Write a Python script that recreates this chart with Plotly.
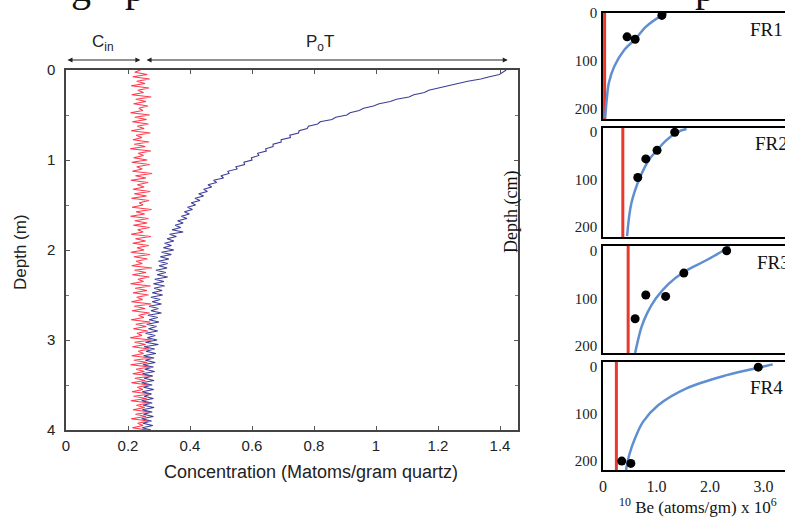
import plotly.graph_objects as go

W, H = 785, 519

# ---------------- main (left) panel data ----------------
depth_m = [
    0.000, 0.025, 0.050, 0.075, 0.100, 0.125, 0.150, 0.175,
    0.200, 0.225, 0.250, 0.275, 0.300, 0.325, 0.350, 0.375,
    0.400, 0.425, 0.450, 0.475, 0.500, 0.525, 0.550, 0.575,
    0.600, 0.625, 0.650, 0.675, 0.700, 0.725, 0.750, 0.775,
    0.800, 0.825, 0.850, 0.875, 0.900, 0.925, 0.950, 0.975,
    1.000, 1.025, 1.050, 1.075, 1.100, 1.125, 1.150, 1.175,
    1.200, 1.225, 1.250, 1.275, 1.300, 1.325, 1.350, 1.375,
    1.400, 1.425, 1.450, 1.475, 1.500, 1.525, 1.550, 1.575,
    1.600, 1.625, 1.650, 1.675, 1.700, 1.725, 1.750, 1.775,
    1.800, 1.825, 1.850, 1.875, 1.900, 1.925, 1.950, 1.975,
    2.000, 2.025, 2.050, 2.075, 2.100, 2.125, 2.150, 2.175,
    2.200, 2.225, 2.250, 2.275, 2.300, 2.325, 2.350, 2.375,
    2.400, 2.425, 2.450, 2.475, 2.500, 2.525, 2.550, 2.575,
    2.600, 2.625, 2.650, 2.675, 2.700, 2.725, 2.750, 2.775,
    2.800, 2.825, 2.850, 2.875, 2.900, 2.925, 2.950, 2.975,
    3.000, 3.025, 3.050, 3.075, 3.100, 3.125, 3.150, 3.175,
    3.200, 3.225, 3.250, 3.275, 3.300, 3.325, 3.350, 3.375,
    3.400, 3.425, 3.450, 3.475, 3.500, 3.525, 3.550, 3.575,
    3.600, 3.625, 3.650, 3.675, 3.700, 3.725, 3.750, 3.775,
    3.800, 3.825, 3.850, 3.875, 3.900, 3.925, 3.950, 3.975,
    4.000,
]

total_conc = [
    1.420, 1.408, 1.398, 1.366, 1.338, 1.296, 1.266, 1.226,
    1.200, 1.170, 1.156, 1.122, 1.106, 1.066, 1.046, 1.010,
    0.992, 0.960, 0.946, 0.916, 0.906, 0.870, 0.858, 0.820,
    0.812, 0.782, 0.778, 0.752, 0.750, 0.722, 0.724, 0.694,
    0.694, 0.668, 0.668, 0.644, 0.646, 0.618, 0.622, 0.598,
    0.600, 0.574, 0.576, 0.548, 0.552, 0.522, 0.526, 0.500,
    0.508, 0.476, 0.486, 0.458, 0.470, 0.444, 0.456, 0.428,
    0.444, 0.416, 0.432, 0.404, 0.418, 0.392, 0.408, 0.382,
    0.398, 0.372, 0.390, 0.360, 0.378, 0.352, 0.370, 0.342,
    0.378, 0.334, 0.356, 0.326, 0.348, 0.318, 0.340, 0.314,
    0.348, 0.308, 0.340, 0.304, 0.332, 0.298, 0.328, 0.300,
    0.326, 0.290, 0.322, 0.294, 0.328, 0.286, 0.316, 0.282,
    0.318, 0.284, 0.310, 0.278, 0.312, 0.274, 0.304, 0.278,
    0.308, 0.268, 0.298, 0.274, 0.308, 0.264, 0.296, 0.268,
    0.300, 0.260, 0.292, 0.266, 0.296, 0.256, 0.288, 0.262,
    0.294, 0.256, 0.298, 0.252, 0.286, 0.258, 0.290, 0.250,
    0.284, 0.256, 0.288, 0.248, 0.282, 0.254, 0.286, 0.246,
    0.280, 0.252, 0.284, 0.244, 0.278, 0.250, 0.283, 0.246,
    0.276, 0.252, 0.282, 0.244, 0.278, 0.249, 0.284, 0.246,
    0.278, 0.250, 0.282, 0.244, 0.276, 0.248, 0.280, 0.246,
    0.274,
]

inherited_conc = [
    0.240, 0.222, 0.262, 0.215, 0.270, 0.228, 0.255, 0.210, 0.268, 0.232,
    0.250, 0.212, 0.275, 0.225, 0.258, 0.218, 0.264, 0.235, 0.248, 0.208,
    0.270, 0.222, 0.260, 0.214, 0.266, 0.230, 0.252, 0.210, 0.272, 0.226,
    0.245, 0.216, 0.268, 0.220, 0.256, 0.207, 0.274, 0.233, 0.250, 0.218,
    0.262, 0.212, 0.270, 0.228, 0.246, 0.214, 0.278, 0.224, 0.258, 0.209,
    0.265, 0.230, 0.252, 0.216, 0.272, 0.220, 0.260, 0.211, 0.268, 0.236,
    0.248, 0.213, 0.276, 0.226, 0.254, 0.208, 0.266, 0.222, 0.262, 0.217,
    0.270, 0.231, 0.249, 0.210, 0.274, 0.224, 0.257, 0.215, 0.267, 0.229,
    0.252, 0.209, 0.271, 0.219, 0.263, 0.226, 0.246, 0.212, 0.277, 0.221,
    0.258, 0.214, 0.269, 0.232, 0.250, 0.208, 0.273, 0.223, 0.261, 0.216,
    0.266, 0.228, 0.247, 0.211, 0.275, 0.220, 0.255, 0.213, 0.270, 0.234,
    0.251, 0.210, 0.272, 0.225, 0.259, 0.217, 0.264, 0.229, 0.245, 0.207,
    0.276, 0.221, 0.257, 0.214, 0.268, 0.233, 0.250, 0.212, 0.273, 0.219,
    0.262, 0.208, 0.270, 0.226, 0.253, 0.215, 0.278, 0.222, 0.256, 0.211,
    0.267, 0.230, 0.248, 0.213, 0.274, 0.218, 0.260, 0.209, 0.269, 0.227,
    0.254, 0.216, 0.271, 0.224, 0.258, 0.210, 0.266, 0.231, 0.249, 0.214,
    0.262,
]

main_xticks = [0, 0.2, 0.4, 0.6, 0.8, 1.0, 1.2, 1.4]
main_xticktext = ["0", "0.2", "0.4", "0.6", "0.8", "1", "1.2", "1.4"]
main_yticks = [0, 1, 2, 3, 4]

# ---------------- small (right) panels data ----------------
panel_names = ["FR1", "FR2", "FR3", "FR4"]
panel_cin = [0.03, 0.37, 0.47, 0.25]

fr1_curve_depth = [0, 5, 28, 55, 77, 112, 146, 181, 220]
fr1_curve_be = [1.19, 1.10, 0.81, 0.60, 0.40, 0.21, 0.11, 0.07, 0.04]
fr1_pts_depth = [5, 50, 55]
fr1_pts_be = [1.10, 0.45, 0.60]

fr2_curve_depth = [-6, 0, 20, 39, 57, 96, 150, 219]
fr2_curve_be = [1.56, 1.40, 1.16, 1.01, 0.87, 0.69, 0.53, 0.45]
fr2_pts_depth = [1, 39, 57, 96]
fr2_pts_be = [1.34, 1.01, 0.80, 0.65]

fr3_curve_depth = [-10, 0, 20, 44, 70, 100, 130, 160, 190, 215]
fr3_curve_be = [2.36, 2.24, 1.93, 1.52, 1.22, 0.99, 0.83, 0.72, 0.65, 0.60]
fr3_pts_depth = [0, 47, 96, 93, 143]
fr3_pts_be = [2.31, 1.51, 1.17, 0.80, 0.60]

fr4_curve_depth = [-6, 0, 17, 45, 81, 116, 151, 187, 219]
fr4_curve_be = [3.17, 2.95, 2.31, 1.56, 1.03, 0.75, 0.60, 0.49, 0.43]
fr4_pts_depth = [0, 200, 205]
fr4_pts_be = [2.90, 0.35, 0.52]

panel_curves = [
    (fr1_curve_be, fr1_curve_depth, fr1_pts_be, fr1_pts_depth),
    (fr2_curve_be, fr2_curve_depth, fr2_pts_be, fr2_pts_depth),
    (fr3_curve_be, fr3_curve_depth, fr3_pts_be, fr3_pts_depth),
    (fr4_curve_be, fr4_curve_depth, fr4_pts_be, fr4_pts_depth),
]
panel_yranges = [[222, 0], [221, -8], [215, -10], [219, -11]]
panel_yticks = [0, 100, 200]
panel_xticks = [0, 1, 2, 3]
panel_xticktext = ["0", "1.0", "2.0", "3.0"]

# pixel layout helpers
def fx(p):
    return p / W

def fy(p):
    return 1 - p / H

panel_px = [(13, 119), (128, 237), (246, 353), (362, 470)]

SANS = "Liberation Sans, Arial, sans-serif"
SERIF = "Liberation Serif, Times New Roman, serif"

fig = go.Figure()

fig.add_trace(go.Scatter(x=inherited_conc, y=depth_m, mode="lines",
                         line=dict(color="#ff3a4c", width=1.1),
                         xaxis="x", yaxis="y", showlegend=False, hoverinfo="skip"))
fig.add_trace(go.Scatter(x=total_conc, y=depth_m, mode="lines",
                         line=dict(color="#3c3c98", width=1.1),
                         xaxis="x", yaxis="y", showlegend=False, hoverinfo="skip"))

layout = dict(
    width=W, height=H,
    margin=dict(l=0, r=0, t=0, b=0, autoexpand=False),
    paper_bgcolor="white", plot_bgcolor="white",
    showlegend=False,
    xaxis=dict(domain=[fx(66), fx(518)], range=[0, 1.458],
               tickvals=main_xticks, ticktext=main_xticktext,
               ticks="inside", ticklen=4, tickcolor="#555",
               showline=True, linecolor="#444", linewidth=1.5, mirror="ticks",
               showgrid=False, zeroline=False,
               tickfont=dict(family=SANS, size=15, color="#222"),
               ticklabelstandoff=1),
    yaxis=dict(domain=[fy(430), fy(70)], range=[4, 0],
               tickvals=main_yticks,
               ticks="inside", ticklen=4, tickcolor="#555",
               minor=dict(dtick=0.5, ticks="inside", ticklen=3, tickcolor="#777"),
               showline=True, linecolor="#444", linewidth=1.5, mirror="ticks",
               showgrid=False, zeroline=False,
               tickfont=dict(family=SANS, size=15, color="#222"),
               ticklabelstandoff=6),
)

for i in range(4):
    n = i + 2
    cb, cd, pb, pd = panel_curves[i]
    yr = panel_yranges[i]
    xa, ya = f"x{n}", f"y{n}"
    fig.add_trace(go.Scatter(x=[panel_cin[i], panel_cin[i]], y=yr, mode="lines",
                             line=dict(color="#e8392c", width=3),
                             xaxis=xa, yaxis=ya, showlegend=False, hoverinfo="skip"))
    fig.add_trace(go.Scatter(x=cb, y=cd, mode="lines", line_shape="spline",
                             line=dict(color="#5f8fd0", width=2.5),
                             xaxis=xa, yaxis=ya, showlegend=False, hoverinfo="skip"))
    fig.add_trace(go.Scatter(x=pb, y=pd, mode="markers",
                             marker=dict(color="black", size=9),
                             xaxis=xa, yaxis=ya, showlegend=False, hoverinfo="skip"))
    top, bot = panel_px[i]
    layout[f"xaxis{n}"] = dict(
        domain=[fx(603), 1.0], range=[0, 3.4], anchor=ya,
        showline=True, linecolor="black", linewidth=1.5, mirror=True,
        ticks="", showgrid=False, zeroline=False,
        tickvals=panel_xticks, ticktext=panel_xticktext,
        showticklabels=(i == 3),
        tickfont=dict(family=SERIF, size=16, color="#222"),
        ticklabelstandoff=1,
    )
    layout[f"yaxis{n}"] = dict(
        domain=[fy(bot), fy(top)], range=yr, anchor=xa,
        showline=True, linecolor="black", linewidth=1.5, mirror=False,
        ticks="", showgrid=False, zeroline=False,
        tickvals=panel_yticks,
        tickfont=dict(family=SERIF, size=15, color="#222"),
        ticklabelstandoff=1,
    )

def label(text, xpix, ypix, font, xanchor="center", angle=0, xref="paper", xval=None):
    return dict(text=text, xref=xref, yref="paper",
                x=fx(xpix) if xval is None else xval, y=fy(ypix),
                xanchor=xanchor, yanchor="middle", textangle=angle,
                showarrow=False, font=font)

annotations = []
annotations.append(label("Concentration (Matoms/gram quartz)", 311, 472,
                         dict(family=SANS, size=18, color="#222")))
annotations.append(label("Depth (m)", 20, 252, dict(family=SANS, size=17, color="#222"), angle=-90))

arrow_style = dict(showarrow=True, arrowhead=2, startarrowhead=2, arrowside="end+start",
                   arrowsize=1, startarrowsize=1, arrowwidth=1, arrowcolor="#222",
                   text="", xref="x", yref="paper", axref="x", ayref="pixel", ay=0,
                   standoff=0, startstandoff=0)
annotations.append(dict(x=0.240, ax=0.0, y=fy(60), **arrow_style))
annotations.append(dict(x=1.425, ax=0.255, y=fy(60), **arrow_style))
annotations.append(label("C<sub>in</sub>", 0, 43, dict(family=SANS, size=17, color="#222"),
                         xref="x", xval=0.12))
annotations.append(label("P<sub>o</sub>T", 0, 43, dict(family=SANS, size=17, color="#222"),
                         xref="x", xval=0.82))

for i, name in enumerate(panel_names):
    ypix = [30, 143, 262, 387][i]
    xpix = [748, 753, 755, 748][i]
    annotations.append(label(name, xpix, ypix, dict(family=SERIF, size=19, color="#111"),
                             xanchor="left"))
annotations.append(label("Depth (cm)", 512, 212, dict(family=SERIF, size=18, color="#111"), angle=-90))
annotations.append(label("<sup>10</sup> Be (atoms/gm) x 10<sup>6</sup>", 698, 506,
                         dict(family=SERIF, size=17, color="#111")))
# cropped caption letters at the very top
for letter, xpix in [("g", 81), ("p", 135), ("p", 705)]:
    annotations.append(dict(text=letter, xref="paper", yref="paper", x=fx(xpix), y=1,
                            xanchor="center", yanchor="bottom", yshift=-12, showarrow=False,
                            font=dict(family=SERIF, size=40, color="#111")))

layout["annotations"] = annotations
fig.update_layout(**layout)
fig.write_html("out.html")
